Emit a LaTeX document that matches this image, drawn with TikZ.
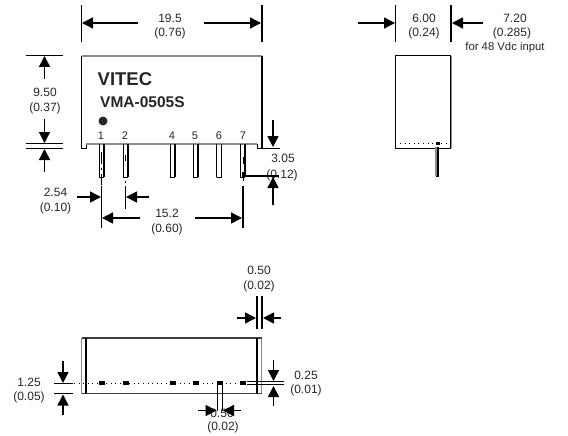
\documentclass[tikz,border=0pt]{standalone}
\usepackage{fontspec}
\setmainfont{Liberation Sans}
\usetikzlibrary{arrows.meta}
\definecolor{gr}{gray}{0.55}
\tikzset{
  dimarrow/.style={line width=1.5pt,-{Triangle[length=11pt,width=11pt]}},
  thin ext/.style={line width=0.8pt},
  thick ext/.style={line width=1.6pt},
  lbl/.style={font=\fontsize{12}{14}\selectfont,text=black!85,inner sep=0pt,anchor=center},
  pinnum/.style={font=\fontsize{11}{12}\selectfont,text=black!85,inner sep=0pt,anchor=center},
  pinL/.style={line width=0.8pt,draw=gr},
  pinR/.style={line width=1.6pt},
  dots/.style={line width=1pt,dash pattern=on 1pt off 3.6pt},
}
% \dimA{name}{from}{to}: arrow between two named coordinates
\newcommand{\dimA}[3]{\coordinate (#1s) at (#2);\coordinate (#1e) at (#3);\draw[dimarrow] (#1s) -- (#1e);}
\newcommand{\extL}[4][thin ext]{\coordinate (#2s) at (#3);\coordinate (#2e) at (#4);\draw[#1] (#2s) -- (#2e);}
\newcommand{\pinp}[2]{%
  \coordinate (p#1t) at (#2,144);\coordinate (p#1b) at (#2,177);
  \draw[pinL] ([xshift=-2.5pt]p#1t) -- ([xshift=-2.5pt]p#1b) -- ([xshift=2.5pt]p#1b);
  \draw[pinR] ([xshift=2.5pt]p#1t) -- ([xshift=2.5pt]p#1b);
  \draw[line width=0.8pt] ([xshift=-2.5pt]p#1b) -- ([xshift=2.5pt]p#1b);
  \draw[line width=0.8pt] ([xshift=-2.5pt]p#1t) -- ([xshift=-2.5pt]p#1b);
}
\begin{document}
\begin{tikzpicture}[x=1pt,y=-1pt]
\useasboundingbox (0,0) rectangle (568,436);
% ===== front view
\coordinate (ftl) at (81.5,56);\coordinate (ftr) at (262,56);
\coordinate (fbl) at (81.5,148);\coordinate (fbr) at (262,148);
\draw[line width=1.6pt,gr] (ftl) -- (ftr);
\draw[line width=0.8pt] (ftl) -- (fbl) -- (86,148) -- (86,144);
\draw[line width=1.6pt,gr] (86,144) -- (257,144);
\draw[line width=0.8pt] (257,144) -- (257,148) -- (fbr);
\draw[line width=1.8pt] (ftr) -- (fbr);
\node[font=\bfseries\fontsize{18.5}{20}\selectfont,text=black!85,inner sep=0pt,anchor=west] (vitec) at (97.5,79) {VITEC};
\node[font=\bfseries\fontsize{15.5}{17}\selectfont,text=black!85,inner sep=0pt,anchor=west] (vma) at (100,102) {VMA-0505S};
\node[circle,fill=black!85,minimum size=9pt,inner sep=0pt] (dot) at (103,121) {};
\foreach \n/\x in {1/101,2/125,4/172,5/195,6/219,7/243}{\node[pinnum] (n\n) at (\x,136) {\n};}
\pinp{1}{101.5}\pinp{2}{125.5}\pinp{4}{172.5}\pinp{5}{195.5}\pinp{6}{219}\pinp{7}{242.5}
% centre lines
\draw[line width=0.8pt,dash pattern=on 12pt off 4pt on 2pt off 4pt] (101.5,152) -- (101.5,185);
\draw[line width=0.8pt,dash pattern=on 6pt off 4pt] (125.5,155) -- (125.5,165);
\draw[line width=0.8pt] (125.5,181) -- (125.5,183);
\draw[line width=2.4pt] (244,157) -- (244,164);
\draw[line width=1.6pt] (243,172) -- (243,177);
\draw[line width=0.8pt] (101.5,178) -- (101.5,181);
\draw[line width=0.8pt] (243,178) -- (243,181);
\extL{cl1}{101.5,186}{101.5,228}
\extL{cl2}{125.5,186}{125.5,209}
\extL[thick ext]{cl7}{243,186}{243,228}
% 19.5
\extL{e1}{81.5,5}{81.5,42}
\extL[thick ext]{e2}{262,5}{262,42}
\dimA{a1}{137.5,23}{82,23}\dimA{a2}{204,23}{261,23}
\node[lbl] (t1a) at (170,18) {19.5};\node[lbl] (t1b) at (170,33) {(0.76)};
% 9.50
\extL{e3}{26,55.5}{63,55.5}\extL{e4}{26,143.5}{63,143.5}\extL{e5}{26,148}{63,148}
\dimA{a3}{44.5,79}{44.5,56}\dimA{a4}{44.5,119}{44.5,143}\dimA{a5}{44.5,172}{44.5,149}
\node[lbl] (t2a) at (45,92) {9.50};\node[lbl] (t2b) at (45,108) {(0.37)};
% 2.54
\dimA{a6}{77,197}{101,197}\dimA{a7}{149,197}{126,197}
\node[lbl] (t3a) at (55.5,192) {2.54};\node[lbl] (t3b) at (55.5,208) {(0.10)};
% 15.2
\dimA{a8}{140,218}{102,218}\dimA{a9}{195,218}{242,218}
\node[lbl] (t4a) at (167,213) {15.2};\node[lbl] (t4b) at (167,229) {(0.60)};
% 3.05
\node[lbl] (t5a) at (283,158) {3.05};\node[lbl] (t5b) at (282,175) {(0.12)};
\extL{e6}{258,148}{280,148}
\extL[thick ext]{e7}{243,176}{279,176}
\dimA{a10}{273,120}{273,147}\dimA{a11}{273,205}{273,177}
% ===== side view
\coordinate (stl) at (395.5,55.5);\coordinate (sbr) at (450.5,148);
\draw[line width=1.2pt,gr] (451,56) -- (451,148);
\draw[line width=0.8pt] (stl) rectangle (sbr);
\draw[dots] (400,143.5) -- (449,143.5);
\fill (436,142) rectangle (440,145);
\draw[line width=1.4pt,gr] (436,147) -- (436,176);
\draw[line width=1.8pt] (438,147) -- (438,176);
\draw[line width=0.8pt] (435.5,176) -- (439,176);
\extL{e8}{395.5,5}{395.5,42}\extL[thick ext]{e9}{451,5}{451,42}
\dimA{a12}{358,23}{395,23}\dimA{a13}{483,23}{452,23}
\node[lbl] (t6a) at (424,18) {6.00};\node[lbl] (t6b) at (424,33) {(0.24)};
\node[lbl] (t7a) at (515,18) {7.20};\node[lbl] (t7b) at (512,33) {(0.285)};
\node[lbl,font=\fontsize{11.3}{13}\selectfont] (t7c) at (505,48) {for 48 Vdc input};
% ===== bottom view
\draw[line width=1.4pt,gr] (81.7,338) -- (81.7,393.5);
\draw[line width=1.4pt,gr] (261.7,338) -- (261.7,393.5);
\draw[line width=1.4pt,black!75] (81.7,338) -- (261.7,338);
\draw[line width=1.4pt,black!75] (81.7,393.5) -- (261.7,393.5);
\extL[thick ext]{b1}{86,338}{86,393.5}
\extL[thick ext]{b2}{257,338}{257,393.5}
\draw[dots] (74,383) -- (248,383);
\foreach \x in {102,125.5,172.5,196,219.5,242.5}{\fill (\x-3,381) rectangle (\x+3,385);}
% 0.50 top
\extL[thick ext]{e10}{257,296}{257,329}\extL[thick ext]{e11}{262,296}{262,329}
\dimA{a14}{237,318}{256,318}\dimA{a15}{281,318}{263,318}
\node[lbl] (t8a) at (259,270) {0.50};\node[lbl] (t8b) at (259,286) {(0.02)};
% 0.25
\extL{e12}{247,381.5}{284,381.5}\extL{e13}{247,384.5}{284,384.5}
\dimA{a16}{273.5,360}{273.5,381}\dimA{a17}{273.5,406}{273.5,386}
\node[lbl] (t9a) at (306,375) {0.25};\node[lbl] (t9b) at (306,390) {(0.01)};
% 1.25
\extL{e14}{54,383}{73,383}\extL[thick ext]{e15}{54,393.5}{73,393.5}
\dimA{a18}{63,361}{63,383}\dimA{a19}{63,415}{63,394.5}
\node[lbl] (t10a) at (29,382) {1.25};\node[lbl] (t10b) at (29,397) {(0.05)};
% 0.50 bottom
\node[lbl] (t11a) at (222,413) {0.50};\node[lbl] (t11b) at (223,427) {(0.02)};
\extL{e16}{217.5,383}{217.5,411}\extL{e17}{222,383}{222,411}
\dimA{a20}{198,410.5}{216.5,410.5}\dimA{a21}{241,410.5}{223,410.5}
\end{tikzpicture}
\end{document}
